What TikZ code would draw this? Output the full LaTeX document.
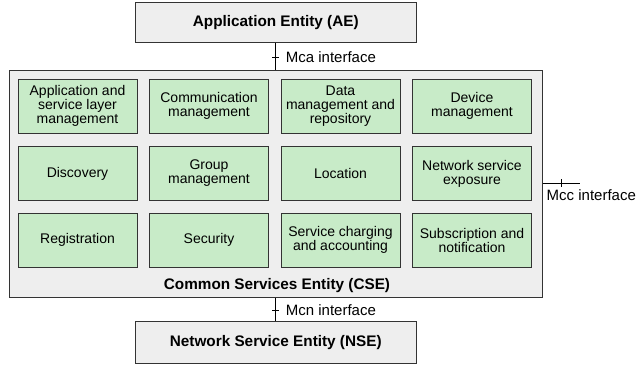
\documentclass[tikz,border=0pt]{standalone}
\usepackage{fontspec}
\setmainfont{Liberation Sans}
\definecolor{svcgreen}{HTML}{C8EBC8}
\definecolor{entgray}{HTML}{EEEEEE}
\definecolor{edgegray}{HTML}{333333}
\begin{document}
\begin{tikzpicture}[x=1pt,y=-1pt,
  svc/.style={draw=edgegray,line width=0.9pt,fill=svcgreen,minimum width=119pt,minimum height=54pt,inner sep=0pt,align=center,font=\fontsize{14}{14}\selectfont},
  entity/.style={draw=edgegray,line width=0.9pt,fill=entgray,inner sep=0pt,font=\fontsize{15.3}{16}\selectfont\bfseries},
  iflabel/.style={inner sep=0pt,anchor=west,font=\fontsize{15}{16}\selectfont},
  wire/.style={line width=0.9pt,draw=black},
  tick/.style={line width=0.7pt,draw=black}]
\useasboundingbox (0,0) rectangle (638,365);
% entities
\node[entity,minimum width=281.5pt,minimum height=39.5pt] (ae) at (275.8,22.5) {Application Entity (AE)};
\node[entity,fill=entgray,minimum width=533pt,minimum height=226.5pt] (cse) at (275.8,184) {};
\node[entity,minimum width=281.5pt,minimum height=41.5pt] (nse) at (275.8,342.5) {Network Service Entity (NSE)};
\node[inner sep=0pt,font=\fontsize{15.3}{16}\selectfont\bfseries] (csel) at (277,285.5) {Common Services Entity (CSE)};
% services
\node[svc] (s11) at (77.5,106) {Application and\\service layer\\management};
\node[svc] (s12) at (209,106) {Communication\\management};
\node[svc] (s13) at (340.5,106) {Data\\management and\\repository};
\node[svc] (s14) at (472,106) {Device\\management};
\node[svc] (s21) at (77.5,173.5) {Discovery};
\node[svc] (s22) at (209,173.5) {Group\\management};
\node[svc] (s23) at (340.5,173.5) {Location};
\node[svc] (s24) at (472,173.5) {Network service\\exposure};
\node[svc] (s31) at (77.5,240) {Registration};
\node[svc] (s32) at (209,240) {Security};
\node[svc] (s33) at (340.5,240) {Service charging\\and accounting};
\node[svc] (s34) at (472,240) {Subscription and\\notification};
% interfaces
\draw[wire] (ae.south) -- (cse.north);
\draw[tick] (272.3,57) -- (279,57);
\node[iflabel] (mca) at (285.7,57) {Mca interface};
\draw[wire] (cse.south) -- (nse.north);
\draw[tick] (272.3,310) -- (279,310);
\node[iflabel] (mcn) at (285.7,310) {Mcn interface};
\coordinate (mccend) at (580,183.3);
\draw[wire] (cse.east |- mccend) -- (mccend);
\draw[tick] (561.7,179.3) -- (561.7,187);
\node[iflabel] (mcc) at (546.5,195) {Mcc interface};
\end{tikzpicture}
\end{document}
